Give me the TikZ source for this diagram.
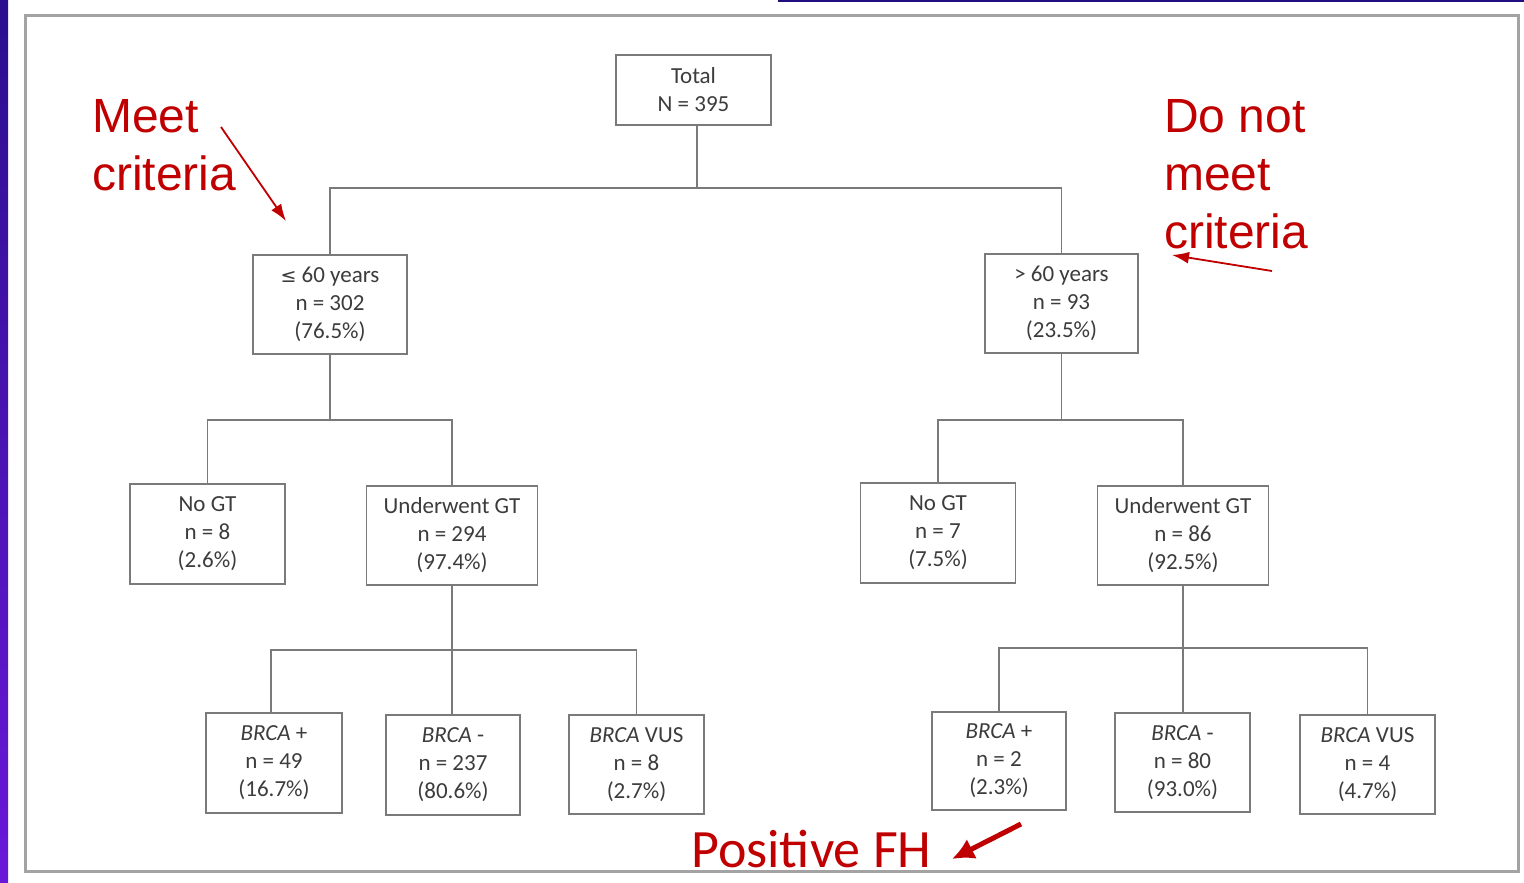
\documentclass[tikz,border=0pt]{standalone}
\usepackage{fontspec}
\setmainfont{Carlito}
\newfontfamily\arialfont{Liberation Sans}
\newfontfamily\symbolfont{DejaVu Sans}
\usetikzlibrary{arrows.meta}
\definecolor{boxgray}{HTML}{7A7A7A}
\definecolor{txtgray}{HTML}{3C3C3C}
\definecolor{framegray}{HTML}{A3A3A3}
\definecolor{annred}{HTML}{C00000}
\definecolor{bartop}{HTML}{2A0F8E}
\definecolor{barbot}{HTML}{6A18D8}
\definecolor{topline}{HTML}{1E0E80}
\tikzset{
  box/.style={draw=boxgray, line width=1.6pt, align=center, inner sep=0pt,
    text=txtgray, font=\fontsize{23}{28}\selectfont},
  conn/.style={draw=boxgray, line width=1.6pt},
  annot/.style={text=annred, font=\arialfont\fontsize{48}{57}\selectfont, anchor=base west, inner sep=0pt},
  annarrow/.style={draw=annred, line width=1.8pt, -{Latex[length=17pt,width=12pt]}},
  fharrow/.style={draw=annred, line width=5pt, -{Latex[length=22pt,width=22pt]}}
}
\begin{document}
\begin{tikzpicture}[x=1pt,y=-1pt]
\useasboundingbox (0,0) rectangle (1524,883);
\fill[white] (0,0) rectangle (1524,883);
\shade[top color=bartop, bottom color=barbot] (0,0) rectangle (8,883);
\fill[topline] (778,0) rectangle (1524,2.5);
\draw[framegray, line width=3pt] (25,16) rectangle (1518,871);

% boxes
\node[box, minimum width=155pt, minimum height=70pt] (total) at (693.5,90) {Total\\N = 395};
\node[box, minimum width=154pt, minimum height=99pt] (le60) at (330,304.5) {{\symbolfont\fontsize{19}{28}\selectfont ≤} 60 years\\n = 302\\(76.5\%)};
\node[box, minimum width=153pt, minimum height=99pt] (gt60) at (1061.5,303.5) {> 60 years\\n = 93\\(23.5\%)};
\node[box, minimum width=155pt, minimum height=100pt] (nogtL) at (207.5,534) {No GT\\n = 8\\(2.6\%)};
\node[box, minimum width=171pt, minimum height=99pt] (ugtL) at (452,535.5) {Underwent GT\\n = 294\\(97.4\%)};
\node[box, minimum width=155pt, minimum height=100pt] (nogtR) at (938,533) {No GT\\n = 7\\(7.5\%)};
\node[box, minimum width=171pt, minimum height=99pt] (ugtR) at (1183,535.5) {Underwent GT\\n = 86\\(92.5\%)};
\node[box, minimum width=136pt, minimum height=100pt] (bpL) at (274,763) {\textit{BRCA} +\\n = 49\\(16.7\%)};
\node[box, minimum width=134pt, minimum height=100pt] (bmL) at (453,765) {\textit{BRCA} -\\n = 237\\(80.6\%)};
\node[box, minimum width=135pt, minimum height=99pt] (bvL) at (636.5,764.5) {\textit{BRCA} VUS\\n = 8\\(2.7\%)};
\node[box, minimum width=134pt, minimum height=98pt] (bpR) at (999,761) {\textit{BRCA} +\\n = 2\\(2.3\%)};
\node[box, minimum width=135pt, minimum height=99pt] (bmR) at (1182.5,762.5) {\textit{BRCA} -\\n = 80\\(93.0\%)};
\node[box, minimum width=135pt, minimum height=99pt] (bvR) at (1367.5,764.5) {\textit{BRCA} VUS\\n = 4\\(4.7\%)};

% connectors
\coordinate (b1) at (697,188);
\draw[conn] ([xshift=3.5pt]total.south) -- (b1);
\draw[conn] (le60.north) |- (b1) -| (gt60.north);
\coordinate (b2) at (330,420);
\draw[conn] (le60.south) -- (b2);
\draw[conn] (nogtL.north) |- (b2) -| (ugtL.north);
\coordinate (b3) at (1061.5,420);
\draw[conn] (gt60.south) -- (b3);
\draw[conn] (nogtR.north) |- (b3) -| (ugtR.north);
\coordinate (b4) at (452,650);
\draw[conn] (ugtL.south) -- (b4);
\draw[conn] ([xshift=-3pt]bpL.north) |- (b4) -| (bvL.north);
\draw[conn] (b4) -- (b4 |- bmL.north);
\coordinate (b5) at (1183,648);
\draw[conn] (ugtR.south) -- (b5);
\draw[conn] (bpR.north) |- (b5) -| (bvR.north);
\draw[conn] (b5) -- (b5 |- bmR.north);

% annotations
\node[annot] (m1) at (92,132) {Meet};
\node[annot] (m2) at (92,190) {criteria};
\node[annot] (d1) at (1164,132) {Do not};
\node[annot] (d2) at (1164,190) {meet};
\node[annot] (d3) at (1164,248) {criteria};
\node[text=annred, font=\fontsize{54}{60}\selectfont, anchor=base west, inner sep=0pt] (fh) at (691,867) {Positive FH};

\coordinate (a1s) at (221,127);
\coordinate (a1e) at (286,221);
\draw[annarrow] (a1s) -- (a1e);
\coordinate (a2s) at (1272,271);
\coordinate (a2e) at (1172,255);
\draw[annarrow] (a2s) -- (a2e);
\coordinate (a3s) at (1021,824);
\coordinate (a3e) at (952,859);
\draw[fharrow] (a3s) -- (a3e);
\end{tikzpicture}
\end{document}
